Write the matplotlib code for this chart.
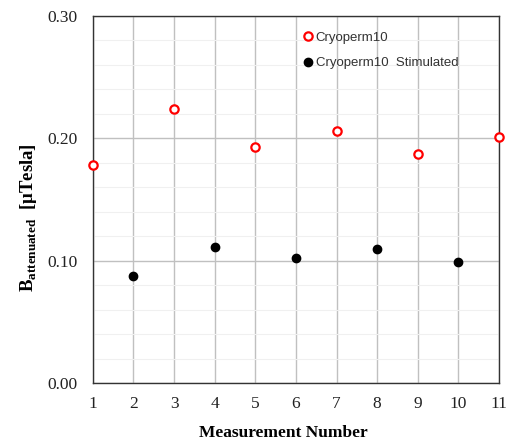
import matplotlib
matplotlib.use("Agg")
import matplotlib.pyplot as plt
import numpy as np
from matplotlib.ticker import MultipleLocator

x_cryo = [1, 3, 5, 7, 9, 11]
y_cryo = [0.178, 0.224, 0.193, 0.206, 0.187, 0.201]
x_stim = [2, 4, 6, 8, 10]
y_stim = [0.0875, 0.111, 0.102, 0.1095, 0.099]
xticks = list(range(1, 12))
yticks = [0.00, 0.10, 0.20, 0.30]

plt.rcParams['mathtext.fontset'] = 'custom'
plt.rcParams['mathtext.rm'] = 'Liberation Serif'
plt.rcParams['mathtext.bf'] = 'Liberation Serif:bold'

fig = plt.figure(figsize=(5.16, 4.41), dpi=100)
ax = fig.add_axes([0.180, 0.1315, 0.787, 0.8322])

ax.set_xlim(1, 11)
ax.set_ylim(0, 0.30)
ax.set_xticks(xticks)
ax.set_yticks(yticks)
ax.set_yticklabels([f"{v:.2f}" for v in yticks])
ax.yaxis.set_minor_locator(MultipleLocator(0.02))
ax.grid(True, which='major', color='#c0c0c0', linewidth=1.0)
ax.grid(True, which='minor', axis='y', color='#f0f0f0', linewidth=0.8)
ax.set_axisbelow(True)
ax.tick_params(which='both', length=0)
ax.tick_params(axis='x', pad=9.5)
ax.tick_params(axis='y', pad=11)
for lab in ax.get_xticklabels() + ax.get_yticklabels():
    lab.set_fontfamily('Liberation Serif')
    lab.set_fontsize(12.5)
    lab.set_color('#222222')
for s in ax.spines.values():
    s.set_color('#333333')
    s.set_linewidth(1.0)

ax.plot(x_cryo, y_cryo, 'o', markerfacecolor='white', markeredgecolor='#ff0000',
        markersize=6, markeredgewidth=1.6, label='Cryoperm10', clip_on=False, zorder=5)
ax.plot(x_stim, y_stim, 'o', color='black', markersize=6, label='Cryoperm10  Stimulated',
        clip_on=False, zorder=5)

leg = ax.legend(loc='upper left', bbox_to_anchor=(0.48, 0.99), frameon=False,
                handletextpad=0.0, handlelength=1.2, labelspacing=1.0,
                prop={'family': 'Liberation Sans', 'size': 9.5})
for t in leg.get_texts():
    t.set_color('#333333')

ax.set_xlabel('Measurement Number', fontfamily='Liberation Serif', fontweight='bold',
              fontsize=12.5, labelpad=8)
ax.xaxis.set_label_coords(0.47, -0.115)
ax.set_ylabel(r'$\mathbf{B}_{\mathbf{attenuated}}$  [μTesla]', fontfamily='Liberation Serif',
              fontweight='bold', fontsize=13.5, labelpad=8)
ax.yaxis.set_label_coords(-0.133, 0.452)

fig.savefig('out.png', dpi=100)
